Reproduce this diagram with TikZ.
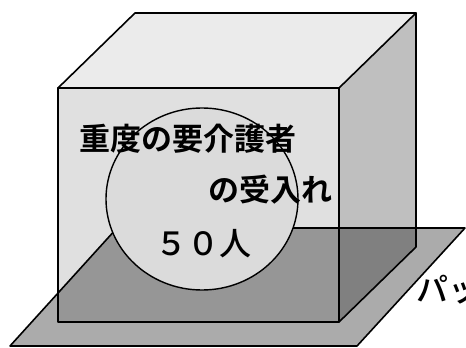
\documentclass[tikz,border=0pt]{standalone}
\usepackage{fontspec}
\usetikzlibrary{shapes.geometric}
\newfontfamily\jp{Noto Sans CJK JP}[BoldFont={* Bold}]
\newfontfamily\jpm{Noto Sans CJK JP Medium}
\begin{document}
\begin{tikzpicture}[x=1pt,y=-1pt,
  edge/.style={line width=1.6pt,line join=round,line cap=round},
  lbl/.style={inner sep=0pt,font=\jpm\fontsize{32}{32}\selectfont},
  lblb/.style={inner sep=0pt,font=\jp\bfseries\fontsize{31}{31}\selectfont}]
\useasboundingbox (0,0) rectangle (466,348);
\clip (0,0) rectangle (466,348);
% cube corners
\coordinate (ftl) at (58,88);
\coordinate (ftr) at (339,88);
\coordinate (fbr) at (339,322);
\coordinate (fbl) at (58,322);
\coordinate (btl) at (135,13);
\coordinate (btr) at (416,13);
\coordinate (bbr) at (416,247);
% plane corners
\coordinate (ptl) at (117,228);
\coordinate (ptr) at (465,228);
\coordinate (pbr) at (357,346);
\coordinate (pbl) at (10,346);
% faces
\fill[gray!16] (ftl) -- (btl) -- (btr) -- (ftr) -- cycle;
\fill[gray!24] (ftl) -- (ftr) -- (fbr) -- (fbl) -- cycle;
\fill[gray!50] (ftr) -- (btr) -- (bbr) -- (fbr) -- cycle;
% plane
\fill[black,opacity=0.33] (ptl) -- (ptr) -- (pbr) -- (pbl) -- cycle;
\draw[edge] (ptl) -- (ptr) -- (pbr) -- (pbl) -- cycle;
% circle
\node[draw,line width=1.4pt,fill=gray!28,ellipse,minimum width=192pt,minimum height=182pt,inner sep=0pt] (circ) at (202,199) {};
% cube edges
\draw[edge] (ftl) -- (ftr) -- (fbr) -- (fbl) -- cycle;
\draw[edge] (ftl) -- (btl) -- (btr) -- (ftr);
\draw[edge] (btr) -- (bbr) -- (fbr);
% texts
\node[lblb] (t1) at (188,139) {重度の要介護者};
\node[lblb] (t2) at (270,190) {の受入れ};
\node[lbl] (t3) at (203,244) {５０人};
\node[lbl,anchor=west] (t4) at (416,290) {パッ};
\end{tikzpicture}
\end{document}
